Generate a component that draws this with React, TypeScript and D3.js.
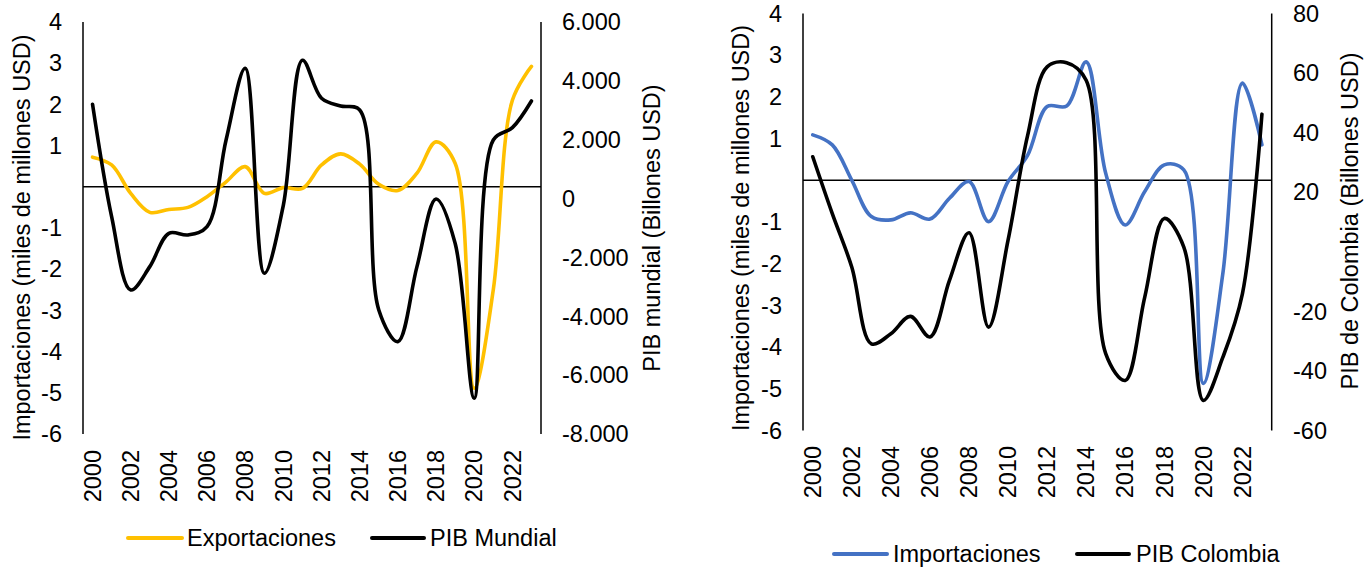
import React from 'react';
import * as d3 from 'd3';

const years = ['2000','2001','2002','2003','2004','2005','2006','2007','2008','2009','2010','2011','2012','2013','2014','2015','2016','2017','2018','2019','2020','2021','2022','2023'];
const yearLabels = ['2000','2002','2004','2006','2008','2010','2012','2014','2016','2018','2020','2022'];

const exportaciones = [0.72, 0.53, -0.16, -0.62, -0.55, -0.5, -0.24, 0.12, 0.49, -0.16, -0.02, -0.04, 0.53, 0.8, 0.55, 0.06, -0.09, 0.33, 1.09, 0.57, -4.89, -2.5, 2.1, 2.92];
const pibMundial = [3204, -615, -3106, -2313, -1180, -1237, -953, 2000, 4427, -2539, -220, 4700, 3408, 3146, 3010, -3785, -4862, -2313, -14, -1520, -6786, 1991, 2409, 3316];

const importaciones = [1.09, 0.85, 0.0, -0.87, -0.95, -0.78, -0.93, -0.43, -0.03, -0.99, -0.03, 0.6, 1.77, 1.78, 2.84, 0.17, -1.07, -0.27, 0.37, 0.25, -4.87, -2.23, 2.33, 0.85];
const pibColombia = [31.9, 12.8, -5.2, -30.9, -27.5, -21.7, -28.6, -9.6, 6.4, -25.3, 3.9, 39, 62.1, 63.5, 57.6, -34.2, -43.2, -15.2, 11.2, 1.6, -49.9, -35.4, -14.1, 46.2];

const leftTicksA = [4, 3, 2, 1, -1, -2, -3, -4, -5, -6];
const rightTicksA = [6000, 4000, 2000, 0, -2000, -4000, -6000, -8000];
const leftTicksB = [4, 3, 2, 1, -1, -2, -3, -4, -5, -6];
const rightTicksB = [80, 60, 40, 20, -20, -40, -60];

const FONT = '"Liberation Sans", Arial, sans-serif';
const FS = 23.5;
const esFmt = d3.formatLocale({ decimal: ',', thousands: '.', grouping: [3], currency: ['', ''], minus: '-' }).format(',');
const plainFmt = d3.formatLocale({ decimal: ',', thousands: '.', grouping: [3], currency: ['', ''], minus: '-' }).format('d');

type ChartCfg = {
  x0: number; x1: number; yTop: number; yBot: number;
  leftDomain: [number, number]; rightDomain: [number, number];
  leftTicks: number[]; rightTicks: number[]; rightFmt: (v: number) => string;
  leftVals: number[]; rightVals: number[]; leftColor: string; rightColor: string;
  leftTitle: string; rightTitle: string;
  leftLabelX: number; rightLabelX: number;
  leftTitleX: number; leftTitleY: number; rightTitleX: number; rightTitleY: number;
  xLabelY: number;
  legend: { y: number; items: { x0: number; x1: number; tx: number; color: string; label: string }[] };
};

function Chart({ c }: { c: ChartCfg }) {
  const xb = d3.scaleBand<string>().domain(years).range([c.x0, c.x1]).paddingInner(0).paddingOuter(0);
  const xc = (y: string) => (xb(y) as number) + xb.bandwidth() / 2;
  const yl = d3.scaleLinear().domain(c.leftDomain).range([c.yBot, c.yTop]);
  const yr = d3.scaleLinear().domain(c.rightDomain).range([c.yBot, c.yTop]);
  const curve = d3.curveCatmullRom.alpha(0.5);
  const lineL = d3.line<number>().x((_, i) => xc(years[i])).y(v => yl(v)).curve(curve);
  const lineR = d3.line<number>().x((_, i) => xc(years[i])).y(v => yr(v)).curve(curve);
  return (
    <g>
      <line x1={c.x0} x2={c.x0} y1={c.yTop} y2={c.yBot} stroke="#000" strokeWidth={1.5} />
      <line x1={c.x1} x2={c.x1} y1={c.yTop} y2={c.yBot} stroke="#000" strokeWidth={1.5} />
      <line x1={c.x0} x2={c.x1} y1={yl(0)} y2={yl(0)} stroke="#000" strokeWidth={1.5} />
      {c.leftTicks.map(t => (
        <text key={'l' + t} x={c.leftLabelX} y={yl(t)} dy="0.35em" textAnchor="end" fontSize={FS} fontFamily={FONT} fill="#000">{plainFmt(t)}</text>
      ))}
      {c.rightTicks.map(t => (
        <text key={'r' + t} x={c.rightLabelX} y={yr(t)} dy="0.35em" textAnchor="start" fontSize={FS} fontFamily={FONT} fill="#000">{c.rightFmt(t)}</text>
      ))}
      {yearLabels.map(y => (
        <text key={y} transform={`translate(${xc(y)},${c.xLabelY}) rotate(-90)`} dy="0.35em" textAnchor="end" fontSize={FS} fontFamily={FONT} fill="#000">{y}</text>
      ))}
      <text transform={`translate(${c.leftTitleX},${c.leftTitleY}) rotate(-90)`} textAnchor="middle" fontSize={FS} fontFamily={FONT} fill="#000">{c.leftTitle}</text>
      <text transform={`translate(${c.rightTitleX},${c.rightTitleY}) rotate(-90)`} textAnchor="middle" fontSize={FS} fontFamily={FONT} fill="#000">{c.rightTitle}</text>
      <path d={lineL(c.leftVals) as string} fill="none" stroke={c.leftColor} strokeWidth={3.6} strokeLinejoin="round" strokeLinecap="round" />
      <path d={lineR(c.rightVals) as string} fill="none" stroke={c.rightColor} strokeWidth={3.6} strokeLinejoin="round" strokeLinecap="round" />
      {c.legend.items.map(it => (
        <g key={it.label}>
          <line x1={it.x0} x2={it.x1} y1={c.legend.y} y2={c.legend.y} stroke={it.color} strokeWidth={4} strokeLinecap="round" />
          <text x={it.tx} y={c.legend.y} dy="0.35em" fontSize={FS} fontFamily={FONT} fill="#000">{it.label}</text>
        </g>
      ))}
    </g>
  );
}

const chartA: ChartCfg = {
  x0: 83, x1: 541, yTop: 22, yBot: 434,
  leftDomain: [-6, 4], rightDomain: [-8000, 6000],
  leftTicks: leftTicksA, rightTicks: rightTicksA, rightFmt: (v) => esFmt(v),
  leftVals: exportaciones, rightVals: pibMundial, leftColor: '#FFC000', rightColor: '#000000',
  leftTitle: 'Importaciones (miles de millones USD)', rightTitle: 'PIB mundial (Billones USD)',
  leftLabelX: 62, rightLabelX: 562,
  leftTitleX: 30, leftTitleY: 237.5, rightTitleX: 660, rightTitleY: 228,
  xLabelY: 450,
  legend: { y: 538, items: [
    { x0: 128, x1: 182, tx: 187, color: '#FFC000', label: 'Exportaciones' },
    { x0: 372, x1: 424, tx: 430, color: '#000000', label: 'PIB Mundial' },
  ] },
};

const chartB: ChartCfg = {
  x0: 803, x1: 1271.7, yTop: 13.5, yBot: 430.5,
  leftDomain: [-6, 4], rightDomain: [-60, 80],
  leftTicks: leftTicksB, rightTicks: rightTicksB, rightFmt: (v) => plainFmt(v),
  leftVals: importaciones, rightVals: pibColombia, leftColor: '#4472C4', rightColor: '#000000',
  leftTitle: 'Importaciones (miles de millones USD)', rightTitle: 'PIB de Colombia (Billones USD)',
  leftLabelX: 782, rightLabelX: 1293,
  leftTitleX: 748.5, leftTitleY: 228, rightTitleX: 1358, rightTitleY: 221,
  xLabelY: 446,
  legend: { y: 554, items: [
    { x0: 834, x1: 887, tx: 893, color: '#4472C4', label: 'Importaciones' },
    { x0: 1077, x1: 1129, tx: 1136, color: '#000000', label: 'PIB Colombia' },
  ] },
};

export default function App() {
  return (
    <svg width={1372} height={569} style={{ position: 'absolute', left: 0, top: 0, background: '#fff' }}>
      <rect width={1372} height={569} fill="#fff" />
      <Chart c={chartA} />
      <Chart c={chartB} />
    </svg>
  );
}
